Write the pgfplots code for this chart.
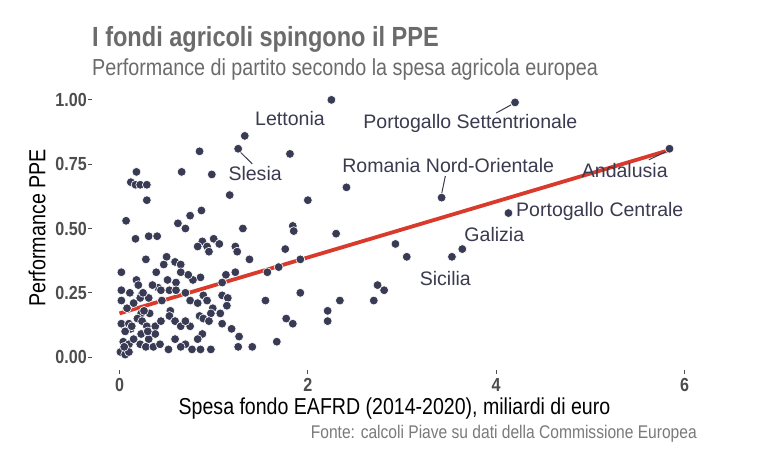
\documentclass[border=0pt]{standalone}
\usepackage{pgfplots}
\pgfplotsset{compat=1.18}
\usepackage{pgfplotstable}
\usepackage{fontspec}
\setmainfont{Liberation Sans}
\newfontfamily\condf{Liberation Sans}[FakeStretch=0.85]

\definecolor{ptcol}{HTML}{383B53}
\definecolor{fitred}{HTML}{D93A2B}
\definecolor{lbl}{HTML}{3A3A50}
\definecolor{ttl}{HTML}{6B6B6B}
\definecolor{cap}{HTML}{7A7A7A}
\definecolor{tck}{HTML}{4D4D4D}

% spesa EAFRD (miliardi di euro) vs performance PPE
\pgfplotstableread{
x y
2.25 1.00
4.20 0.99
5.84 0.81
1.33 0.86
1.26 0.81
0.85 0.80
1.81 0.79
0.18 0.72
0.66 0.72
0.98 0.71
2.41 0.66
2.00 0.61
3.42 0.62
4.13 0.56
1.17 0.63
0.12 0.68
0.17 0.67
0.22 0.67
0.29 0.67
0.29 0.61
0.07 0.53
0.17 0.46
0.31 0.47
0.40 0.47
0.75 0.55
0.62 0.52
0.70 0.50
0.87 0.57
1.31 0.50
0.88 0.45
0.83 0.43
0.93 0.43
0.95 0.41
1.00 0.46
1.06 0.44
1.23 0.43
1.25 0.41
1.38 0.38
1.84 0.51
1.85 0.49
2.30 0.48
1.76 0.42
1.92 0.38
1.69 0.35
2.93 0.44
3.05 0.39
1.92 0.25
2.34 0.22
2.21 0.18
2.21 0.14
2.70 0.22
2.74 0.28
2.81 0.26
1.77 0.15
1.84 0.13
1.67 0.06
3.53 0.39
3.64 0.42
1.57 0.33
0.86 0.31
0.78 0.30
1.13 0.32
1.23 0.33
1.09 0.29
1.55 0.22
1.09 0.24
1.15 0.23
0.75 0.22
0.89 0.24
0.83 0.21
0.93 0.22
1.14 0.20
0.99 0.19
0.97 0.17
1.07 0.17
0.85 0.16
0.89 0.15
0.95 0.14
1.09 0.13
0.75 0.12
1.19 0.11
0.88 0.09
1.27 0.08
0.83 0.07
0.77 0.03
0.86 0.03
0.97 0.03
1.26 0.04
1.41 0.04
0.28 0.38
0.50 0.39
0.59 0.37
0.65 0.36
0.02 0.33
0.39 0.33
0.18 0.30
0.51 0.30
0.60 0.29
0.73 0.32
0.41 0.27
0.44 0.26
0.53 0.26
0.02 0.26
0.11 0.25
0.02 0.22
0.23 0.24
0.22 0.23
0.31 0.23
0.60 0.26
0.70 0.25
0.15 0.21
0.23 0.17
0.32 0.17
0.54 0.18
0.02 0.13
0.10 0.13
0.12 0.11
0.19 0.15
0.24 0.14
0.29 0.12
0.38 0.12
0.44 0.14
0.53 0.16
0.59 0.14
0.65 0.12
0.70 0.14
0.06 0.10
0.04 0.06
0.10 0.05
0.15 0.07
0.23 0.09
0.31 0.07
0.38 0.09
0.22 0.05
0.28 0.04
0.36 0.04
0.43 0.05
0.59 0.07
0.70 0.05
0.01 0.02
0.06 0.01
0.10 0.02
0.52 0.03
0.65 0.04
0.47 0.36
0.65 0.33
0.25 0.25
0.13 0.12
0.05 0.04
0.30 0.10
0.45 0.22
0.35 0.28
0.08 0.19
0.20 0.28
0.26 0.18
}\regioni

% retta di regressione
\pgfplotstableread{
x y
0.00 0.170
5.84 0.805
}\retta

\begin{document}
\begin{tikzpicture}
\path[use as bounding box, fill=white] (0bp,0bp) rectangle (767bp,455bp);

\begin{axis}[
  at={(92bp,85bp)}, anchor=south west,
  width=605bp, height=283bp, scale only axis,
  xmin=-0.292, xmax=6.132, ymin=-0.05, ymax=1.05,
  clip=false,
  axis line style={draw=none},
  tick align=outside, major tick length=4bp,
  tick style={draw=tck, line width=1bp},
  xtick pos=bottom, ytick pos=left,
  xtick={0,2,4,6}, xticklabels={0,2,4,6},
  ytick={0,0.25,0.5,0.75,1}, yticklabels={0.00,0.25,0.50,0.75,1.00},
  ticklabel style={font=\condf\bfseries\fontsize{19}{19}\selectfont, text=tck},
  yticklabel style={anchor=east, inner sep=1bp},
  xticklabel style={anchor=north, inner sep=4bp},
]
\addplot[only marks, mark=*, mark size=4.4bp,
  mark options={fill=ptcol, draw=white, line width=0.6bp}] table {\regioni};
\addplot[fitred, line width=3.8bp] table {\retta};

% etichette delle regioni
\begin{scope}[every node/.style={font=\fontsize{19.6}{20}\selectfont, text=lbl, inner sep=0pt}]
\node at (axis cs:1.81,0.926) {Lettonia};
\node at (axis cs:1.44,0.712) {Slesia};
\node at (axis cs:3.725,0.907) {Portogallo Settentrionale};
\node at (axis cs:3.49,0.743) {Romania Nord-Orientale};
\node at (axis cs:5.365,0.724) {Andalusia};
\node[anchor=west] at (axis cs:4.21,0.568) {Portogallo Centrale};
\node at (axis cs:3.98,0.475) {Galizia};
\node at (axis cs:3.46,0.307) {Sicilia};
\end{scope}
\draw[lbl, line width=1bp] (axis cs:1.28,0.798) -- (axis cs:1.41,0.751);
\draw[lbl, line width=1bp] (axis cs:4.00,0.949) -- (axis cs:4.16,0.981);
\draw[lbl, line width=1bp] (axis cs:3.46,0.704) -- (axis cs:3.42,0.634);
\draw[lbl, line width=1bp] (axis cs:5.62,0.767) -- (axis cs:5.81,0.800);
\end{axis}

\node[anchor=base west, inner sep=0pt, text=ttl, font=\condf\bfseries\fontsize{27.8}{28}\selectfont] at (92bp,408bp) {I fondi agricoli spingono il PPE};
\node[anchor=base west, inner sep=0pt, text=ttl, font=\condf\fontsize{23.3}{24}\selectfont] at (92bp,379bp) {Performance di partito secondo la spesa agricola europea};
\node[anchor=base, inner sep=0pt, text=black, font=\condf\fontsize{23.1}{24}\selectfont] at (394.5bp,40bp) {Spesa fondo EAFRD (2014-2020), miliardi di euro};
\node[rotate=90, inner sep=0pt, text=black, font=\condf\fontsize{23.3}{24}\selectfont] at (37bp,227bp) {Performance PPE};
\node[anchor=base east, inner sep=0pt, text=cap, font=\condf\fontsize{18.4}{19}\selectfont] at (697bp,17bp) {Fonte: calcoli Piave su dati della Commissione Europea};
\end{tikzpicture}
\end{document}
